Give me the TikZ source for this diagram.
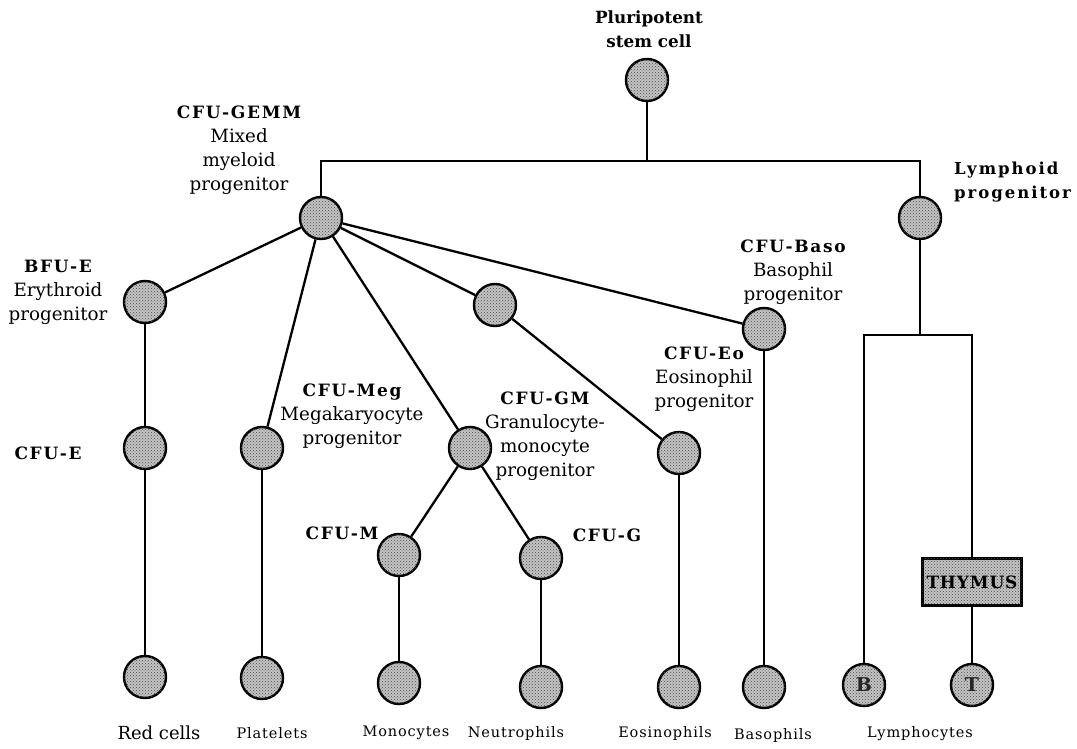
\documentclass[tikz,border=0pt]{standalone}
\usepackage{fontspec}
\setmainfont{DejaVu Serif}
\usetikzlibrary{patterns}
\definecolor{cellgray}{RGB}{196,196,196}
\newcommand\cfulab[1]{{\fontsize{17}{24}\selectfont\bfseries\addfontfeature{LetterSpace=10}#1}}
\begin{document}
\begin{tikzpicture}[x=1pt,y=-1pt,
  dotfill/.style={fill=cellgray,postaction={pattern=crosshatch dots,pattern color=black!70}},
  cell/.style={circle,draw,line width=2.4pt,dotfill,minimum size=42pt,inner sep=0pt},
  link/.style={line width=2.3pt},
  lab/.style={font=\fontsize{18.3}{24}\selectfont,align=center,inner sep=0pt},
  cfu/.style={font=\fontsize{17}{24}\selectfont\bfseries\addfontfeature{LetterSpace=10},inner sep=0pt},
  endlab/.style={font=\fontsize{14.5}{17}\selectfont\addfontfeature{LetterSpace=6},inner sep=0pt},
  boxstyle/.style={rectangle,draw,line width=2.4pt,dotfill,minimum width=99pt,minimum height=47pt,inner sep=0pt}
]
\useasboundingbox (0,0) rectangle (1077,749);

% cells
\node[cell] (stem) at (647,80) {};
\node[cell] (gemm) at (321,218) {};
\node[cell] (lymph) at (920,218) {};
\node[cell] (bfue) at (145,302) {};
\node[cell] (gran) at (495,305) {};
\node[cell] (baso) at (764,329) {};
\node[cell] (cfue) at (145,448) {};
\node[cell] (meg) at (262,448) {};
\node[cell] (gm) at (470,448) {};
\node[cell] (eo) at (679,453) {};
\node[cell] (cfum) at (399,555) {};
\node[cell] (cfug) at (541,558) {};
\node[cell] (red) at (145,677) {};
\node[cell] (plt) at (262,678) {};
\node[cell] (mono) at (399,683) {};
\node[cell] (neut) at (541,687) {};
\node[cell] (eos) at (679,687) {};
\node[cell] (basos) at (764,687) {};
\node[cell,font=\fontsize{19}{20}\selectfont\bfseries,text=black!85] (bcell) at (864,685) {B};
\node[cell,font=\fontsize{19}{20}\selectfont\bfseries,text=black!85] (tcell) at (972,685) {T};
\node[boxstyle,font=\fontsize{17}{18}\selectfont\bfseries\addfontfeature{LetterSpace=5}] (thymus) at (972,582) {THYMUS};

% connectors
\coordinate (bar) at (647,161);
\coordinate (lsplit) at (920,335);
\draw[link] (stem) -- (bar);
\draw[link] (gemm.north) |- (bar) -| (lymph.north);
\draw[link] (lymph) -- (lsplit);
\draw[link] (bcell.north) |- (lsplit) -| (thymus.north);
\draw[link] (thymus) -- (tcell);
\draw[link] (gemm) -- (bfue);
\draw[link] (gemm) -- (meg);
\draw[link] (gemm) -- (gm);
\draw[link] (gemm) -- (gran);
\draw[link] (gemm) -- (baso);
\draw[link] (gran) -- (eo);
\draw[link] (bfue) -- (cfue);
\draw[link] (cfue) -- (red);
\draw[link] (meg) -- (plt);
\draw[link] (gm) -- (cfum);
\draw[link] (gm) -- (cfug);
\draw[link] (cfum) -- (mono);
\draw[link] (cfug) -- (neut);
\draw[link] (eo) -- (eos);
\draw[link] (baso) -- (basos);

% labels
\node[lab,font=\fontsize{16.8}{24}\selectfont\bfseries] (lstem) at (649,29) {Pluripotent\\stem cell};
\node[lab] (lgemm) at (239,150) {\cfulab{CFU-GEMM}\\Mixed\\myeloid\\progenitor};
\node[lab] (lbfue) at (58,292) {\cfulab{BFU-E}\\Erythroid\\progenitor};
\node[cfu] (lcfue) at (48,453) {CFU-E};
\node[lab] (lmeg) at (352,416) {\cfulab{CFU-Meg}\\Megakaryocyte\\progenitor};
\node[lab] (lgm) at (545,436) {\cfulab{CFU-GM}\\Granulocyte-\\monocyte\\progenitor};
\node[cfu] (lcfum) at (342,533) {CFU-M};
\node[cfu] (lcfug) at (607,535) {CFU-G};
\node[lab] (leo) at (704,379) {\cfulab{CFU-Eo}\\Eosinophil\\progenitor};
\node[lab] (lbaso) at (793,272) {\cfulab{CFU-Baso}\\Basophil\\progenitor};
\node[cfu,align=left,anchor=west,font=\fontsize{16.5}{24}\selectfont\bfseries\addfontfeature{LetterSpace=12}] (llymph) at (954,182) {Lymphoid\\progenitor};

\node[lab,font=\fontsize{18}{20}\selectfont] (lred) at (159,733) {Red cells};
\node[endlab] (lplt) at (272,733) {Platelets};
\node[endlab] (lmono) at (406,733) {Monocytes};
\node[endlab] (lneut) at (516,733) {Neutrophils};
\node[endlab] (leos) at (665,733) {Eosinophils};
\node[endlab] (lbasos) at (773,735) {Basophils};
\node[endlab] (llympho) at (920,734) {Lymphocytes};
\end{tikzpicture}
\end{document}
